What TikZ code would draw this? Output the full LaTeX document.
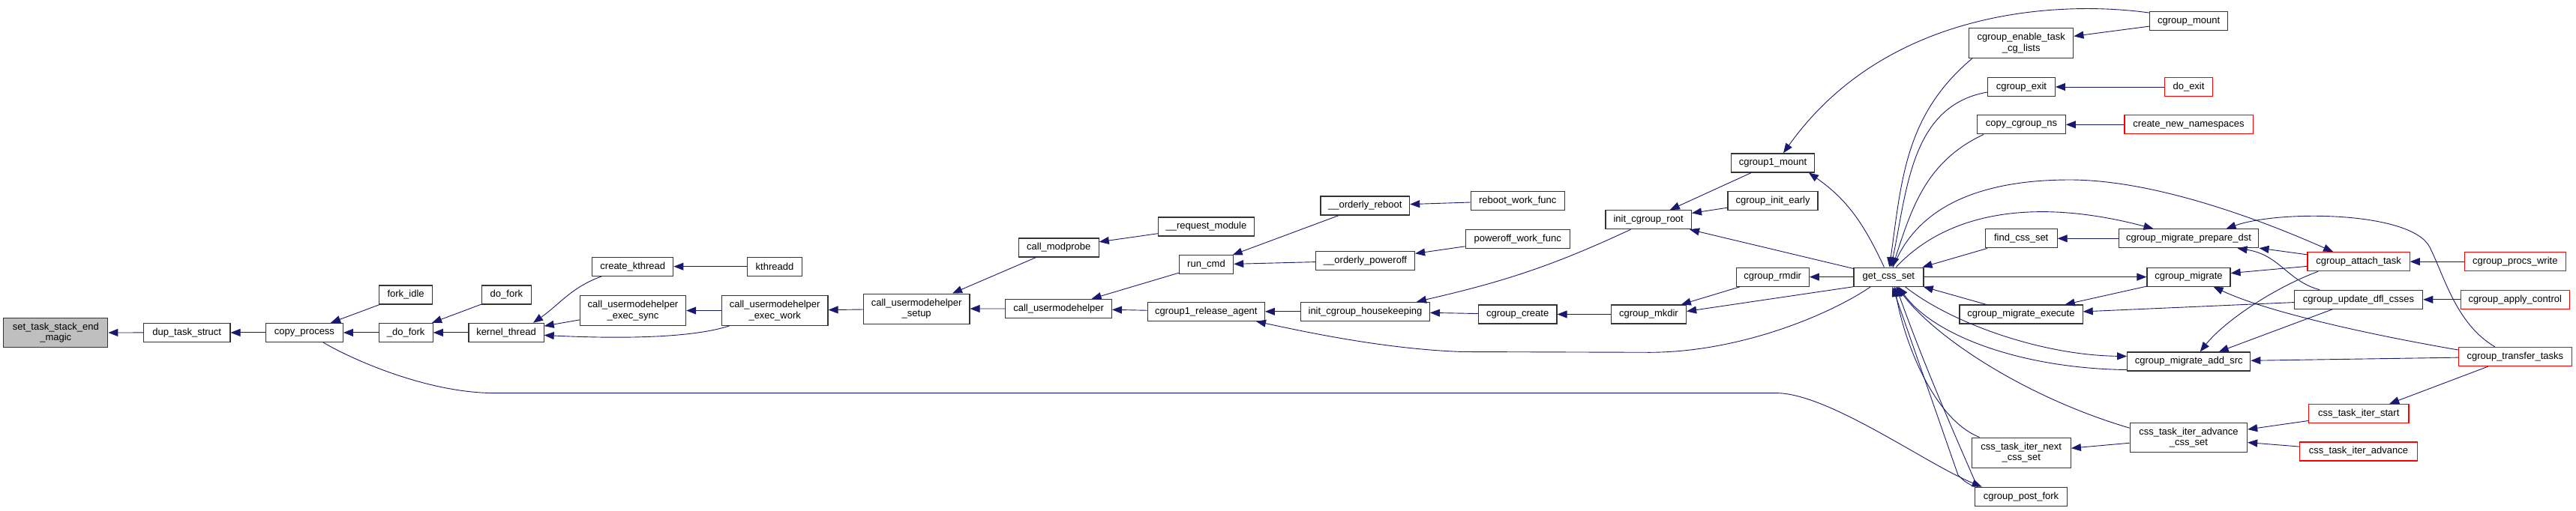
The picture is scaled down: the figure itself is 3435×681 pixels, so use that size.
\documentclass[tikz,border=0pt]{standalone}
\usepackage{fontspec}
\setmainfont{Liberation Sans}
\usepackage{xcolor}
\usetikzlibrary{arrows.meta}
\definecolor{dxblue}{HTML}{191970}
\definecolor{dxgray}{HTML}{BFBFBF}
\definecolor{dxred}{HTML}{FF0000}
\newcommand{\dxfont}{\fontsize{13}{14.7}\selectfont}
\tikzset{
  fn/.style={draw=#1, line width=1.2pt, fill=white, text=black, align=center,
             inner sep=0pt, minimum height=25pt, font=\dxfont},
  fn/.default=black!80,
  rootfn/.style={fn, fill=dxgray},
  call/.style={-{Triangle[length=13pt,width=10pt]}, line width=0.9pt, draw=dxblue}
}
\begin{document}
\begin{tikzpicture}[x=1pt, y=1pt]
  \useasboundingbox (0,0) rectangle (3435,-681);
  % columns, left to right
  \node[rootfn, minimum width=139pt, minimum height=39.5pt] (set) at (74.3,-444) {set\_task\_stack\_end\\\_magic};
  \node[fn, minimum width=115.5pt] (dup) at (249.2,-443.9) {dup\_task\_struct};
  \node[fn, minimum width=102.9pt] (copyp) at (405.9,-443.9) {copy\_process};
  \node[fn, minimum width=71.2pt] (forkidle) at (541.1,-393.5) {fork\_idle};
  \node[fn, minimum width=71.9pt] (udofork) at (541.2,-443.9) {\_do\_fork};
  \node[fn, minimum width=65.8pt] (dofork) at (675.4,-393.5) {do\_fork};
  \node[fn, minimum width=100.2pt] (kthread) at (675,-443.9) {kernel\_thread};
  \node[fn, minimum width=107.9pt] (createk) at (843.8,-355.7) {create\_kthread};
  \node[fn, minimum width=141.2pt, minimum height=39.5pt] (execsync) at (844,-414.5) {call\_usermodehelper\\\_exec\_sync};
  \node[fn, minimum width=72.3pt] (kthreadd) at (1033,-355.7) {kthreadd};
  \node[fn, minimum width=141.6pt, minimum height=39.5pt] (execwork) at (1033.2,-414.5) {call\_usermodehelper\\\_exec\_work};
  \node[fn, minimum width=141.5pt, minimum height=40pt] (umhsetup) at (1222.2,-412.1) {call\_usermodehelper\\\_setup};
  \node[fn, minimum width=106.8pt] (modprobe) at (1411.8,-330.5) {call\_modprobe};
  \node[fn, minimum width=141.6pt] (umh) at (1411.6,-411.9) {call\_usermodehelper};
  \node[fn, minimum width=128.2pt] (reqmod) at (1608.5,-302.5) {\_\_request\_module};
  \node[fn, minimum width=72.3pt] (runcmd) at (1608.5,-353.3) {run\_cmd};
  \node[fn, minimum width=156.1pt] (relagent) at (1608.3,-415.8) {cgroup1\_release\_agent};
  \node[fn, minimum width=118.6pt] (oreboot) at (1820.3,-274.5) {\_\_orderly\_reboot};
  \node[fn, minimum width=132pt] (opoweroff) at (1820.5,-347.9) {\_\_orderly\_poweroff};
  \node[fn, minimum width=171.8pt] (housekeep) at (1820.5,-415.8) {init\_cgroup\_housekeeping};
  \node[fn, minimum width=125.2pt] (rebootwf) at (2023.7,-268) {reboot\_work\_func};
  \node[fn, minimum width=138.9pt] (poweroffwf) at (2023.7,-318.8) {poweroff\_work\_func};
  \node[fn, minimum width=104.5pt] (cgcreate) at (2023.7,-419.5) {cgroup\_create};
  \node[fn, minimum width=114.4pt] (initroot) at (2198.2,-293.2) {init\_cgroup\_root};
  \node[fn, minimum width=100.2pt] (mkdir) at (2198.4,-419.5) {cgroup\_mkdir};
  \node[fn, minimum width=110.7pt] (c1mount) at (2364,-217.4) {cgroup1\_mount};
  \node[fn, minimum width=119.9pt] (initearly) at (2364,-268) {cgroup\_init\_early};
  \node[fn, minimum width=97.2pt] (rmdir) at (2363.7,-369.6) {cgroup\_rmdir};
  \node[fn, minimum width=93pt] (getcss) at (2518.4,-369.6) {get\_css\_set};
  \node[fn, minimum width=139.2pt, minimum height=39.5pt] (enabletask) at (2695.2,-57.5) {cgroup\_enable\_task\\\_cg\_lists};
  \node[fn, minimum width=89.8pt] (cgexit) at (2695.4,-116) {cgroup\_exit};
  \node[fn, minimum width=117.5pt] (copyns) at (2695.5,-166.3) {copy\_cgroup\_ns};
  \node[fn, minimum width=95.8pt] (findcss) at (2695.2,-318.3) {find\_css\_set};
  \node[fn, minimum width=164.2pt] (migexec) at (2695,-419.5) {cgroup\_migrate\_execute};
  \node[fn, minimum width=132.2pt, minimum height=40pt] (iternext) at (2695.2,-604.1) {css\_task\_iter\_next\\\_css\_set};
  \node[fn, minimum width=123.5pt] (postfork) at (2695,-662.7) {cgroup\_post\_fork};
  \node[fn, minimum width=104pt] (cgmount) at (2918.6,-28.2) {cgroup\_mount};
  \node[fn=dxred, minimum width=63.9pt] (doexit) at (2918.5,-116) {do\_exit};
  \node[fn=dxred, minimum width=171.2pt] (newns) at (2918.5,-166.3) {create\_new\_namespaces};
  \node[fn, minimum width=186.7pt] (prepdst) at (2918.5,-318.3) {cgroup\_migrate\_prepare\_dst};
  \node[fn, minimum width=111pt] (migrate) at (2918.5,-369.6) {cgroup\_migrate};
  \node[fn, minimum width=164pt] (addsrc) at (2918.7,-482.5) {cgroup\_migrate\_add\_src};
  \node[fn, minimum width=156.3pt, minimum height=39pt] (advcss) at (2918.4,-584.2) {css\_task\_iter\_advance\\\_css\_set};
  \node[fn=dxred, minimum width=136.1pt] (attach) at (3145.1,-349.2) {cgroup\_attach\_task};
  \node[fn, minimum width=171.3pt] (updatedfl) at (3145,-399.8) {cgroup\_update\_dfl\_csses};
  \node[fn=dxred, minimum width=133.4pt] (iterstart) at (3145.2,-552) {css\_task\_iter\_start};
  \node[fn=dxred, minimum width=156.3pt] (iteradv) at (3145,-602.4) {css\_task\_iter\_advance};
  \node[fn=dxred, minimum width=135.2pt] (procswrite) at (3353.8,-349.2) {cgroup\_procs\_write};
  \node[fn=dxred, minimum width=145.4pt] (applyctl) at (3353.8,-399.8) {cgroup\_apply\_control};
  \node[fn=dxred, minimum width=150.8pt] (transfer) at (3353.8,-476) {cgroup\_transfer\_tasks};

  % fork side
  \draw[call] (dup) -- (set);
  \draw[call] (copyp) -- (dup);
  \draw[call] (forkidle) -- (copyp);
  \draw[call] (udofork) -- (copyp);
  \draw[call] (dofork) -- (udofork);
  \draw[call] (kthread) -- (udofork);
  \draw[call] ([xshift=13pt]createk.south west) to[out=200,in=35] ([xshift=36pt]kthread.north);
  \draw[call] (execsync) -- (kthread);
  \draw[call] ([xshift=11pt]execwork.south west) .. controls (920,-452) and (820,-452) .. ([yshift=-3.5pt]kthread.east);
  \draw[call] (kthreadd) -- (createk);
  \draw[call] (execwork) -- (execsync);
  \draw[call] (umhsetup) -- (execwork);
  \draw[call] (modprobe) -- (umhsetup);
  \draw[call] (umh) -- (umhsetup);
  \draw[call] (reqmod) -- (modprobe);
  \draw[call] (runcmd) -- (umh);
  \draw[call] (relagent) -- (umh);
  \draw[call] (oreboot) -- (runcmd);
  \draw[call] (opoweroff) -- (runcmd);
  \draw[call] (housekeep) -- (relagent);
  \draw[call] (rebootwf) -- (oreboot);
  \draw[call] (poweroffwf) -- (opoweroff);
  \draw[call] ([xshift=34pt]initroot.south west) to[out=205,in=13] ([xshift=-18pt]housekeep.north east);
  \draw[call] (cgcreate) -- (housekeep);
  \draw[call] (mkdir) -- (cgcreate);
  \draw[call] (c1mount) -- (initroot);
  \draw[call] (initearly) -- (initroot);
  \draw[call] (rmdir) -- (mkdir);
  \draw[call] ([xshift=25pt]copyp.south) .. controls (470,-480) and (570,-524.6) .. (660,-524.6)
    -- (2370,-524.6) .. controls (2440,-526) and (2570,-620) .. ([xshift=10pt]postfork.north west);

  % get_css_set and its neighbours
  \draw[call] (getcss) -- (initroot);
  \draw[call] (getcss) -- (rmdir);
  \draw[call] (getcss.south west) -- ([yshift=4pt]mkdir.east);
  \draw[call] ([xshift=-24pt]getcss.south) .. controls (2440,-420) and (2320,-470) .. (2200,-470.3)
    -- (1950,-469.5) .. controls (1850,-466) and (1750,-445) .. ([xshift=-12pt]relagent.south east);
  \draw[call] ([xshift=-6pt]getcss.north) to[out=115,in=-35] ([xshift=-8pt]c1mount.south east);
  \draw[call] ([yshift=-2pt]cgmount.north west) .. controls (2760,-2) and (2520,-5) .. ([xshift=14pt]c1mount.north);
  \draw[call] ([xshift=5pt]enabletask.south west) to[out=220,in=82] ([xshift=1pt]getcss.north);
  \draw[call] ([yshift=-7pt]cgexit.west) to[out=190,in=78] ([xshift=3pt]getcss.north);
  \draw[call] ([xshift=9pt]copyns.south west) to[out=205,in=72] ([xshift=5pt]getcss.north);
  \draw[call] ([xshift=6pt]getcss.north) .. controls (2560,-265) and (2660,-240) .. (2760,-240)
    .. controls (2880,-240) and (3030,-300) .. ([xshift=-34pt]attach.north);
  \draw[call] ([xshift=10pt]getcss.north) .. controls (2590,-290) and (2700,-260) .. ([xshift=-47pt]prepdst.north);
  \draw[call] (findcss) -- (getcss);
  \draw[call] (getcss) -- (migrate);
  \draw[call] (migexec) -- (getcss);
  \draw[call] ([xshift=22pt]getcss.south) .. controls (2600,-430) and (2720,-474) .. ([yshift=7pt]addsrc.west);
  \draw[call] ([yshift=-11pt]addsrc.west) .. controls (2700,-492) and (2580,-450) .. ([xshift=13pt]getcss.south);
  \draw[call] ([yshift=13pt]advcss.west) .. controls (2700,-530) and (2580,-450) .. ([xshift=11pt]getcss.south);
  \draw[call] ([xshift=11pt]iternext.north west) .. controls (2580,-560) and (2540,-460) .. ([xshift=8pt]getcss.south);
  \draw[call] (postfork.north west) .. controls (2620,-643) .. (2611,-634) -- ([xshift=5pt]getcss.south);
  \draw[call] ([xshift=4pt]postfork.north west) .. controls (2622,-615) and (2570,-500) .. ([xshift=10pt]getcss.south);

  % cgroup migration side
  \draw[call] (cgmount) -- (enabletask);
  \draw[call] (doexit) -- (cgexit);
  \draw[call] (newns) -- (copyns);
  \draw[call] (prepdst) -- (findcss);
  \draw[call] (migrate) -- (migexec);
  \draw[call] (updatedfl) -- (migexec);
  \draw[call] (attach) -- (prepdst);
  \draw[call] ([xshift=-52pt]updatedfl.north) .. controls (3050,-375) and (3040,-340) .. ([xshift=65pt]prepdst.south);
  \draw[call] ([xshift=-27pt]transfer.north) .. controls (3275,-432) and (3260,-370) .. (3240,-330)
    .. controls (3216,-282) and (3040,-280) .. ([xshift=50pt]prepdst.north);
  \draw[call] (attach) -- (migrate);
  \draw[call] ([yshift=9pt]transfer.west) .. controls (3150,-445) and (3020,-415) .. ([xshift=33pt]migrate.south);
  \draw[call] ([xshift=-54pt]attach.south) .. controls (3030,-385) and (2965,-430) .. ([xshift=15pt]addsrc.north);
  \draw[call] ([xshift=-35pt]updatedfl.south) -- ([xshift=40pt]addsrc.north);
  \draw[call] (transfer) -- (addsrc);
  \draw[call] (procswrite) -- (attach);
  \draw[call] (applyctl) -- (updatedfl);
  \draw[call] ([xshift=-36pt]transfer.south) -- ([xshift=41pt]iterstart.north);
  \draw[call] (iterstart) -- (advcss);
  \draw[call] (iteradv) -- (advcss);
  \draw[call] (advcss) -- (iternext);
\end{tikzpicture}
\end{document}
